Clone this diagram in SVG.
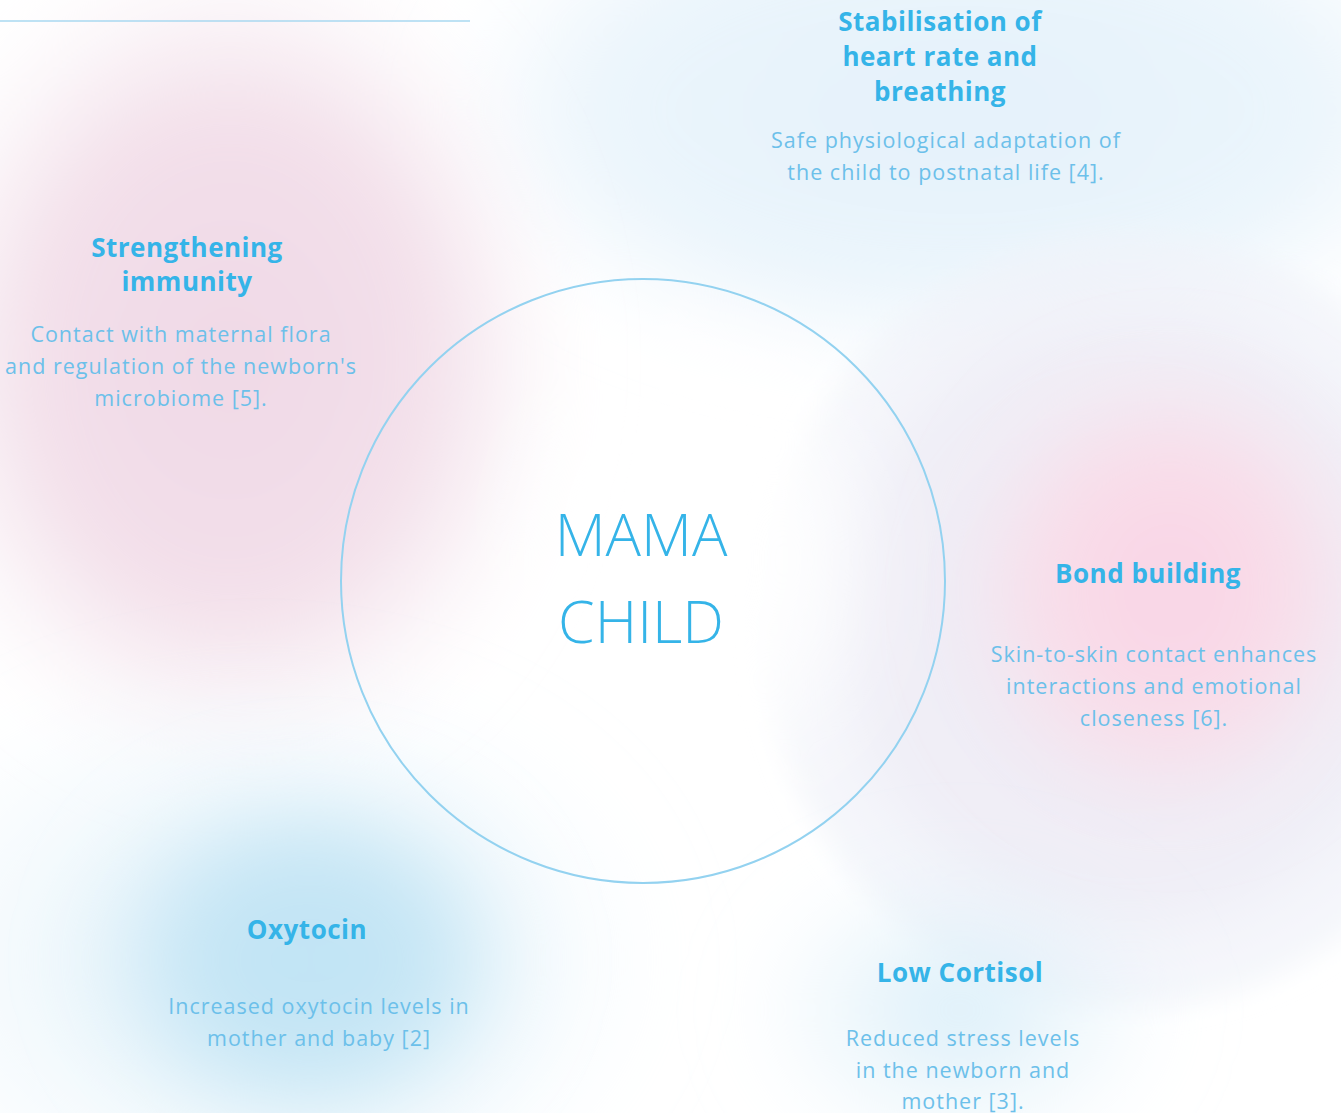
<svg xmlns="http://www.w3.org/2000/svg" width="1341" height="1113" viewBox="0 0 1341 1113">
<defs>
<style>
.h{font-family:"Open Sans","Liberation Sans",sans-serif;font-weight:700;font-size:26px;letter-spacing:0.5px;fill:#35b4e8;text-anchor:middle}
.b{font-family:"Open Sans","Liberation Sans",sans-serif;font-weight:400;font-size:21.5px;letter-spacing:1px;fill:#6cc0ea;text-anchor:middle}
.c{font-family:"Open Sans","Liberation Sans",sans-serif;font-weight:300;font-size:59px;fill:#35b4e8;text-anchor:middle}
</style>
<filter id="bl" x="-50%" y="-50%" width="200%" height="200%"><feGaussianBlur stdDeviation="40"/></filter>
<filter id="bl2" x="-50%" y="-50%" width="200%" height="200%"><feGaussianBlur stdDeviation="12"/></filter>
<radialGradient id="gPink"><stop offset="0" stop-color="#f0d8e6"/><stop offset="0.6" stop-color="#f3e0ea"/><stop offset="1" stop-color="#f7eef4" stop-opacity="0"/></radialGradient>
<radialGradient id="gTop"><stop offset="0" stop-color="#e4f1fb"/><stop offset="0.7" stop-color="#ebf5fc"/><stop offset="1" stop-color="#eef6fc" stop-opacity="0"/></radialGradient>
<radialGradient id="gRight"><stop offset="0" stop-color="#efe6f1"/><stop offset="0.7" stop-color="#f0eff7"/><stop offset="1" stop-color="#f1f4fa" stop-opacity="0.6"/></radialGradient>
<radialGradient id="gBond"><stop offset="0" stop-color="#f9d3e5"/><stop offset="0.6" stop-color="#f9dde9"/><stop offset="1" stop-color="#f7e6ef" stop-opacity="0"/></radialGradient>
<radialGradient id="gOxy"><stop offset="0" stop-color="#bfe3f4"/><stop offset="0.55" stop-color="#c6e6f5"/><stop offset="1" stop-color="#dff1fa" stop-opacity="0"/></radialGradient>
<radialGradient id="gBL"><stop offset="0" stop-color="#d8edf8"/><stop offset="1" stop-color="#eaf5fb" stop-opacity="0"/></radialGradient>
<radialGradient id="gCort"><stop offset="0" stop-color="#d5ecf8"/><stop offset="1" stop-color="#e6f3fa" stop-opacity="0"/></radialGradient>
<radialGradient id="gCircle" cx="0.55" cy="0.5" r="0.5"><stop offset="0" stop-color="#ffffff"/><stop offset="0.5" stop-color="#ffffff" stop-opacity="0.9"/><stop offset="1" stop-color="#ffffff" stop-opacity="0"/></radialGradient>
</defs>
<rect width="1341" height="1113" fill="#ffffff"/>
<g id="background">
<ellipse cx="960" cy="110" rx="520" ry="260" fill="url(#gTop)" filter="url(#bl)"/>
<ellipse cx="230" cy="360" rx="340" ry="420" fill="url(#gPink)" filter="url(#bl)"/>
<ellipse cx="1130" cy="620" rx="370" ry="390" fill="url(#gRight)" filter="url(#bl2)"/>
<ellipse cx="1170" cy="590" rx="210" ry="230" fill="url(#gBond)" filter="url(#bl)"/>
<ellipse cx="260" cy="960" rx="420" ry="300" fill="url(#gBL)" filter="url(#bl)"/>
<ellipse cx="310" cy="960" rx="230" ry="190" fill="url(#gOxy)" filter="url(#bl)"/>
<ellipse cx="960" cy="1010" rx="220" ry="160" fill="url(#gCort)" filter="url(#bl)"/>
<ellipse cx="680" cy="560" rx="200" ry="260" fill="url(#gCircle)" filter="url(#bl)"/>
</g>
<line x1="0" y1="21" x2="470" y2="21" stroke="#a9d8f0" stroke-width="1.5"/>
<g id="center">
<circle cx="643" cy="581" r="302" fill="none" stroke="#93d2f0" stroke-width="2"/>
<text class="c" x="641" y="556">MAMA</text>
<text class="c" x="641" y="643">CHILD</text>
</g>
<g id="stabilisation">
<text class="h" x="940" y="31">Stabilisation of</text>
<text class="h" x="940" y="66">heart rate and</text>
<text class="h" x="940" y="101">breathing</text>
<text class="b" x="946" y="148">Safe physiological adaptation of</text>
<text class="b" x="946" y="180">the child to postnatal life [4].</text>
</g>
<g id="immunity">
<text class="h" x="187" y="257">Strengthening</text>
<text class="h" x="187" y="291">immunity</text>
<text class="b" x="181" y="342">Contact with maternal flora</text>
<text class="b" x="181" y="374">and regulation of the newborn's</text>
<text class="b" x="181" y="406">microbiome [5].</text>
</g>
<g id="bond">
<text class="h" x="1148" y="583">Bond building</text>
<text class="b" x="1154" y="662">Skin-to-skin contact enhances</text>
<text class="b" x="1154" y="694">interactions and emotional</text>
<text class="b" x="1154" y="726">closeness [6].</text>
</g>
<g id="oxytocin">
<text class="h" x="307" y="939">Oxytocin</text>
<text class="b" x="319" y="1014">Increased oxytocin levels in</text>
<text class="b" x="319" y="1046">mother and baby [2]</text>
</g>
<g id="cortisol">
<text class="h" x="960" y="982">Low Cortisol</text>
<text class="b" x="963" y="1046">Reduced stress levels</text>
<text class="b" x="963" y="1078">in the newborn and</text>
<text class="b" x="963" y="1109">mother [3].</text>
</g>
<g id="connectors"/>
</svg>
